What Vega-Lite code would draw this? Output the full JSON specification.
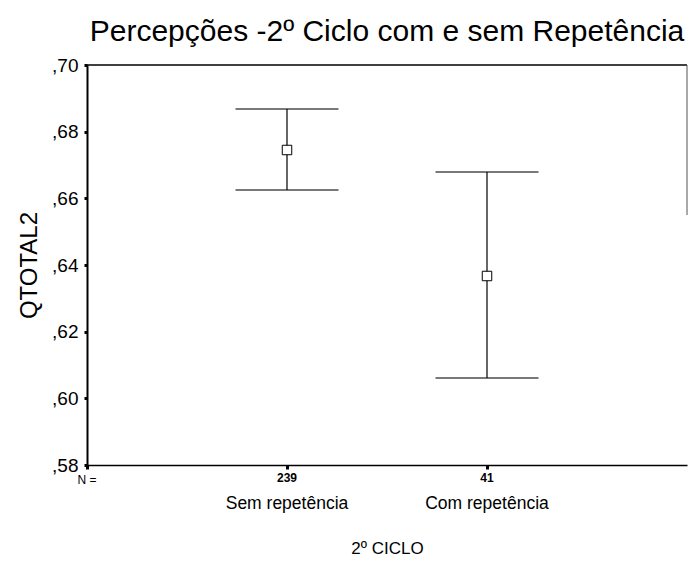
{
  "$schema": "https://vega.github.io/schema/vega-lite/v6.json",
  "autosize": "none",
  "width": 600,
  "height": 400,
  "padding": {"left": 87, "top": 65, "right": 2, "bottom": 97},
  "background": "white",
  "config": {
    "view": {"stroke": null},
    "font": "Liberation Sans",
    "axis": {"grid": false, "domainColor": "black", "tickColor": "black", "labelColor": "black", "titleColor": "black", "labelFont": "Liberation Sans", "titleFont": "Liberation Sans", "titleFontWeight": "normal"}
  },
  "title": {"text": "Percepções -2º Ciclo com e sem Repetência", "fontSize": 30, "fontWeight": "normal", "font": "Liberation Sans", "color": "black", "anchor": "middle", "offset": 9},
  "data": {"values": [
    {"grupo": "Sem repetência", "pos": 1, "n": "239", "media": 0.6745, "inf": 0.6625, "sup": 0.6868},
    {"grupo": "Com repetência", "pos": 2, "n": "41", "media": 0.6367, "inf": 0.6061, "sup": 0.6679}
  ]},
  "layer": [
    {
      "mark": {"type": "rule", "color": "black", "strokeWidth": 1.2},
      "encoding": {
        "x": {"field": "pos", "type": "quantitative", "scale": {"domain": [0, 3], "nice": false, "zero": false},
          "axis": {"title": "2º CICLO", "titleFontSize": 17, "titlePadding": 70, "values": [0, 1, 2], "labels": false, "tickSize": 4, "tickWidth": 3, "domainWidth": 1.5}},
        "y": {"field": "inf", "type": "quantitative", "scale": {"domain": [0.58, 0.70], "nice": false, "zero": false},
          "axis": {"title": "QTOTAL2", "titleFontSize": 24, "titlePadding": 10, "values": [0.58, 0.60, 0.62, 0.64, 0.66, 0.68, 0.70], "labelExpr": "replace(format(datum.value, '.2f'), '0.', ',')", "labelFontSize": 19, "labelPadding": 6, "tickSize": 3, "tickWidth": 3, "domainWidth": 2}},
        "y2": {"field": "sup"}
      }
    },
    {
      "mark": {"type": "tick", "orient": "horizontal", "color": "black", "size": 103, "thickness": 1.3},
      "encoding": {"x": {"field": "pos", "type": "quantitative"}, "y": {"field": "sup", "type": "quantitative"}}
    },
    {
      "mark": {"type": "tick", "orient": "horizontal", "color": "black", "size": 103, "thickness": 1.3},
      "encoding": {"x": {"field": "pos", "type": "quantitative"}, "y": {"field": "inf", "type": "quantitative"}}
    },
    {
      "mark": {"type": "point", "shape": "square", "size": 90, "filled": true, "fill": "white", "stroke": "black", "strokeWidth": 1, "opacity": 1},
      "encoding": {"x": {"field": "pos", "type": "quantitative"}, "y": {"field": "media", "type": "quantitative"}}
    },
    {
      "mark": {"type": "text", "fontSize": 12, "fontWeight": "bold", "baseline": "top", "dy": 8, "clip": false, "color": "black"},
      "encoding": {"x": {"field": "pos", "type": "quantitative"}, "y": {"datum": 0.58, "type": "quantitative"}, "text": {"field": "n"}}
    },
    {
      "data": {"values": [{"rotulo": "N =", "pos": 0}]},
      "mark": {"type": "text", "fontSize": 12, "baseline": "top", "dy": 10, "clip": false, "color": "black"},
      "encoding": {"x": {"field": "pos", "type": "quantitative"}, "y": {"datum": 0.58, "type": "quantitative"}, "text": {"field": "rotulo"}}
    },
    {
      "mark": {"type": "text", "fontSize": 17.5, "baseline": "top", "dy": 30, "clip": false, "color": "black"},
      "encoding": {"x": {"field": "pos", "type": "quantitative"}, "y": {"datum": 0.58, "type": "quantitative"}, "text": {"field": "grupo"}}
    },
    {
      "data": {"values": [{"a": 0, "b": 3, "v": 0.70}]},
      "mark": {"type": "rule", "color": "black", "strokeWidth": 1.5},
      "encoding": {"x": {"field": "a", "type": "quantitative"}, "x2": {"field": "b"}, "y": {"field": "v", "type": "quantitative"}}
    },
    {
      "data": {"values": [{"a": 3, "v1": 0.70, "v2": 0.655}]},
      "mark": {"type": "rule", "color": "#555555", "strokeWidth": 1},
      "encoding": {"x": {"field": "a", "type": "quantitative"}, "y": {"field": "v1", "type": "quantitative"}, "y2": {"field": "v2"}}
    }
  ]
}
